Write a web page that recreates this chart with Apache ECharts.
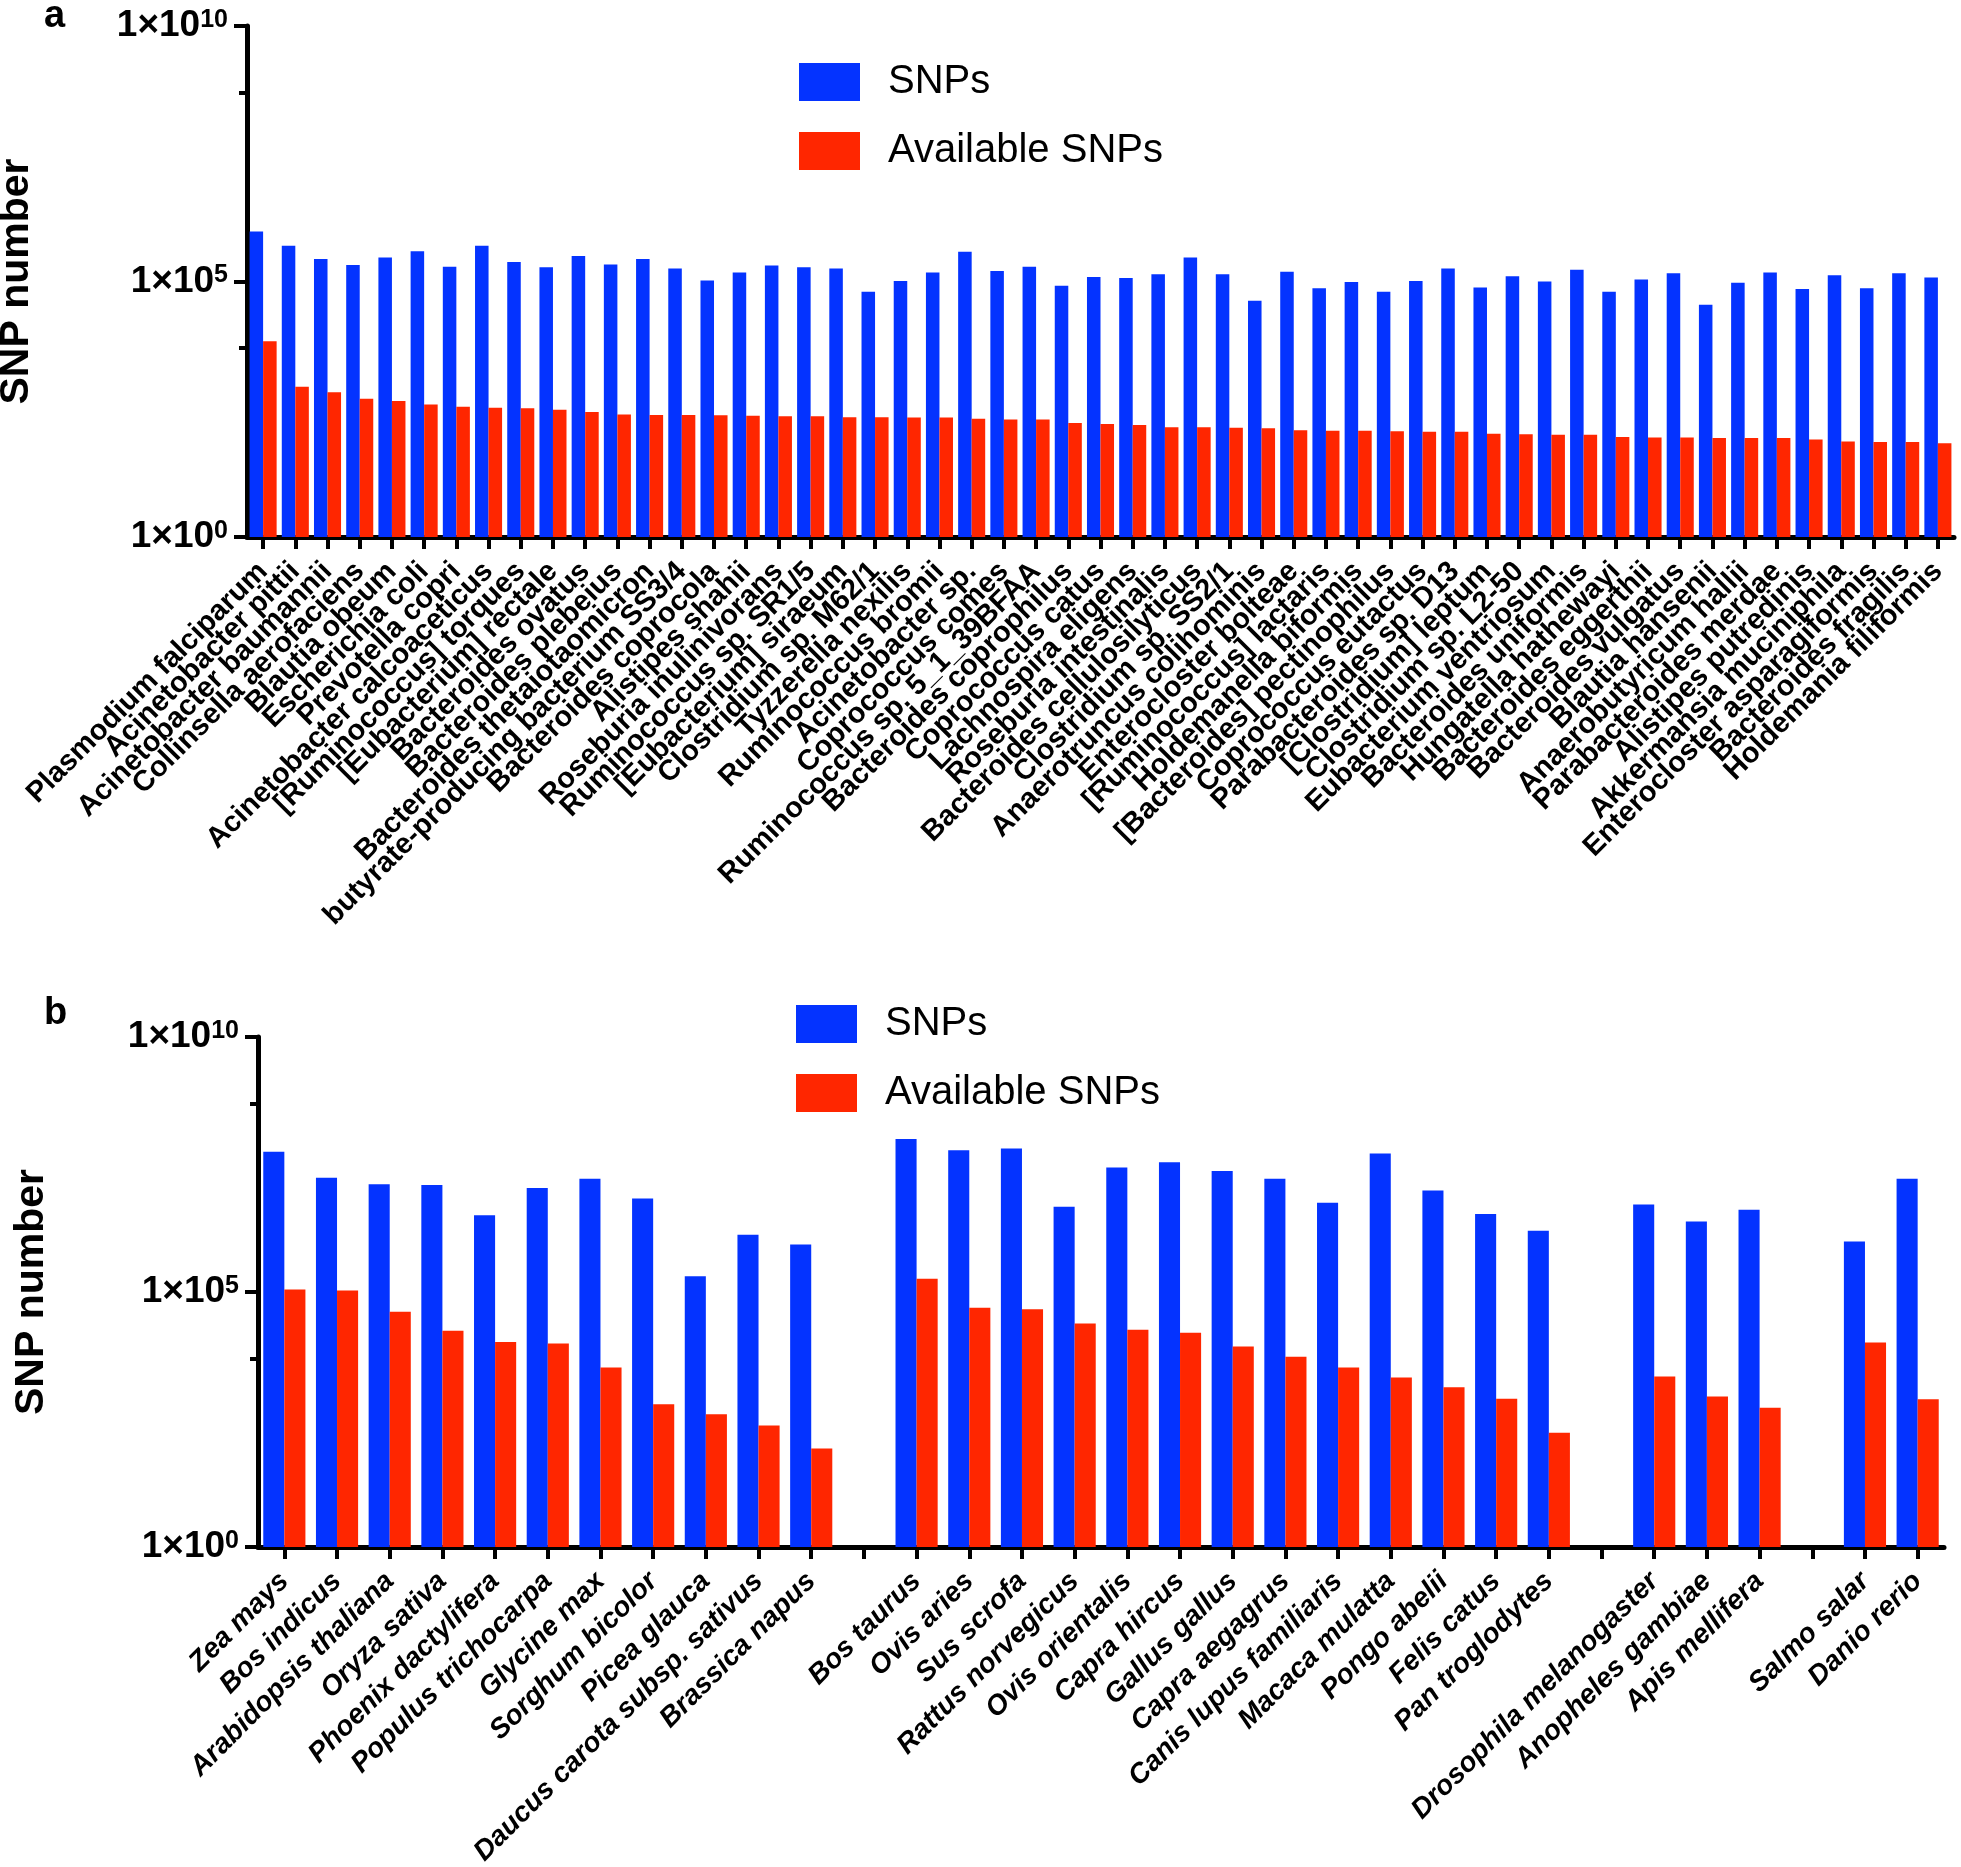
<!DOCTYPE html>
<html><head><meta charset="utf-8">
<script src="https://cdn.jsdelivr.net/npm/echarts@6/dist/echarts.min.js"></script>
<style>html,body{margin:0;padding:0;background:#fff}#c{width:1961px;height:1867px}</style>
</head><body><div id="c"></div>
<script>
const categoriesA = ['Plasmodium falciparum','Acinetobacter pittii','Acinetobacter baumannii','Collinsella aerofaciens','Blautia obeum','Escherichia coli','Prevotella copri','Acinetobacter calcoaceticus','[Ruminococcus] torques','[Eubacterium] rectale','Bacteroides ovatus','Bacteroides plebeius','Bacteroides thetaiotaomicron','butyrate-producing bacterium SS3/4','Bacteroides coprocola','Alistipes shahii','Roseburia inulinivorans','Ruminococcus sp. SR1/5','[Eubacterium] siraeum','Clostridium sp. M62/1','Tyzzerella nexilis','Ruminococcus bromii','Acinetobacter sp.','Coprococcus comes','Ruminococcus sp. 5_1_39BFAA','Bacteroides coprophilus','Coprococcus catus','Lachnospira eligens','Roseburia intestinalis','Bacteroides cellulosilyticus','Clostridium sp. SS2/1','Anaerotruncus colihominis','Enterocloster bolteae','[Ruminococcus] lactaris','Holdemanella biformis','[Bacteroides] pectinophilus','Coprococcus eutactus','Parabacteroides sp. D13','[Clostridium] leptum','Clostridium sp. L2-50','Eubacterium ventriosum','Bacteroides uniformis','Hungatella hathewayi','Bacteroides eggerthii','Bacteroides vulgatus','Blautia hansenii','Anaerobutyricum hallii','Parabacteroides merdae','Alistipes putredinis','Akkermansia muciniphila','Enterocloster asparagiformis','Bacteroides fragilis','Holdemania filiformis'];
const snpsA = [9.5e5,5.0e5,2.75e5,2.1e5,2.95e5,3.9e5,1.95e5,5.0e5,2.4e5,1.9e5,3.15e5,2.15e5,2.75e5,1.8e5,1.05e5,1.5e5,2.05e5,1.9e5,1.8e5,6.3e4,1.02e5,1.5e5,3.8e5,1.6e5,1.95e5,8.3e4,1.23e5,1.17e5,1.38e5,2.95e5,1.38e5,4.2e4,1.55e5,7.4e4,9.8e4,6.3e4,1.02e5,1.8e5,7.6e4,1.26e5,1.0e5,1.7e5,6.3e4,1.1e5,1.45e5,3.5e4,9.5e4,1.5e5,7.1e4,1.32e5,7.4e4,1.45e5,1.2e5];
const availA = [6800,870,680,510,460,390,355,340,330,310,280,250,245,245,240,235,230,230,220,220,218,218,205,200,200,170,162,155,141,141,138,135,123,120,120,117,115,115,105,102,100,100,91,89,89,87,87,87,81,74,72,72,68];

const categoriesB = ['Zea mays','Bos indicus','Arabidopsis thaliana','Oryza sativa','Phoenix dactylifera','Populus trichocarpa','Glycine max','Sorghum bicolor','Picea glauca','Daucus carota subsp. sativus','Brassica napus','','Bos taurus','Ovis aries','Sus scrofa','Rattus norvegicus','Ovis orientalis','Capra hircus','Gallus gallus','Capra aegagrus','Canis lupus familiaris','Macaca mulatta','Pongo abelii','Felis catus','Pan troglodytes','','Drosophila melanogaster','Anopheles gambiae','Apis mellifera','','Salmo salar','Danio rerio'];
const snpsB = [5.6e7,1.74e7,1.29e7,1.26e7,3.2e6,1.1e7,1.66e7,6.8e6,2.04e5,1.32e6,8.5e5,null,1.0e8,6.0e7,6.5e7,4.7e6,2.75e7,3.5e7,2.35e7,1.66e7,5.6e6,5.2e7,9.8e6,3.4e6,1.58e6,null,5.2e6,2.4e6,4.1e6,null,9.8e5,1.66e7];
const availB = [1.12e5,1.07e5,4.1e4,1.74e4,1.05e4,9.8e3,3.3e3,630,400,240,85,null,1.82e5,4.9e4,4.6e4,2.4e4,1.82e4,1.58e4,8.5e3,5.4e3,3.3e3,2.1e3,1.35e3,810,174,null,2.2e3,890,540,null,1.02e4,790];

const yMajorTicks = [1, 1e5, 1e10];
const yMinorTicks = [5e3, 5e8];
const seriesNames = ['SNPs', 'Available SNPs'];
const panelLetters = ['a', 'b'];
const yTitle = 'SNP number';

const F = '"Liberation Sans", Arial, Helvetica, sans-serif';
const BLUE = '#0433FF', RED = '#FF2600';

const chart = echarts.init(document.getElementById('c'), null, {renderer: 'canvas'});

function yLabelFormatter(v) {
  const e = Math.round(Math.log10(v));
  return '{b|1×10}{s|' + e + '}';
}
const yRich = {
  b: {fontSize: 37, fontWeight: 'bold', fontFamily: F, color: '#000', lineHeight: 37, verticalAlign: 'bottom', padding: [6, 0, 0, 0]},
  s: {fontSize: 25, fontWeight: 'bold', fontFamily: F, color: '#000', lineHeight: 25, verticalAlign: 'top'}
};

function mainY(gridIndex, nameGap) {
  return {
    type: 'log', logBase: 10, gridIndex, min: 1, max: 1e10, position: 'left',
    name: yTitle, nameLocation: 'middle', nameGap,
    nameTextStyle: {fontSize: 41, fontWeight: 'bold', fontFamily: F, color: '#000'},
    axisLine: {show: true, lineStyle: {color: '#000', width: 5}},
    axisTick: {show: true, length: 13, lineStyle: {color: '#000', width: 4}, customValues: yMajorTicks},
    axisLabel: {show: true, customValues: yMajorTicks, margin: 19, formatter: yLabelFormatter, rich: yRich},
    splitLine: {show: false}, minorTick: {show: false}, minorSplitLine: {show: false}
  };
}
function minorY(gridIndex) {
  return {
    type: 'log', logBase: 10, gridIndex, min: 1, max: 1e10, position: 'left', offset: 0,
    axisLine: {show: false},
    axisTick: {show: true, length: 8, lineStyle: {color: '#000', width: 4}, customValues: yMinorTicks},
    axisLabel: {show: false},
    splitLine: {show: false}
  };
}
function catX(gridIndex, data, italic, size) {
  return {
    type: 'category', gridIndex, data,
    axisLine: {show: true, onZero: false, lineStyle: {color: '#000', width: 5}},
    axisTick: {show: true, alignWithLabel: true, interval: 0, length: 12, lineStyle: {color: '#000', width: 4}},
    axisLabel: {interval: 0, rotate: 45, margin: 30, fontSize: size, fontWeight: 'bold',
      fontStyle: italic ? 'italic' : 'normal', fontFamily: F, color: '#000'},
    splitLine: {show: false}
  };
}
function legend(left, top) {
  return {
    data: seriesNames, orient: 'vertical', left, top,
    itemWidth: 61, itemHeight: 38, itemGap: 29, icon: 'rect',
    textStyle: {fontSize: 40, lineHeight: 40, fontFamily: F, color: '#000', padding: [0, 0, 0, 23]}
  };
}
function bar(name, xi, yi, data, color, gap) {
  return {
    type: 'bar', name, xAxisIndex: xi, yAxisIndex: yi, data,
    barGap: '0%', barCategoryGap: gap,
    itemStyle: {color}, emphasis: {disabled: true}
  };
}

const option = {
  animation: false,
  backgroundColor: '#fff',
  grid: [
    {left: 247, right: 7, top: 26, height: 511, outerBoundsMode: 'none', containLabel: false},
    {left: 258, right: 17, top: 1037, height: 510, outerBoundsMode: 'none', containLabel: false}
  ],
  legend: [legend(794, 57), legend(791, 999)],
  xAxis: [catX(0, categoriesA, false, 29), catX(1, categoriesB, true, 28)],
  yAxis: [mainY(0, 210), minorY(0), mainY(1, 206), minorY(1)],
  series: [
    bar(seriesNames[0], 0, 0, snpsA, BLUE, '16%'),
    bar(seriesNames[1], 0, 0, availA, RED, '16%'),
    bar(seriesNames[0], 1, 2, snpsB, BLUE, '20%'),
    bar(seriesNames[1], 1, 2, availB, RED, '20%')
  ],
  graphic: [
    {type: 'text', left: 44, top: -2, style: {text: panelLetters[0], fontSize: 38, fontWeight: 'bold', fontFamily: F, fill: '#000'}},
    {type: 'text', left: 44, top: 995, style: {text: panelLetters[1], fontSize: 38, fontWeight: 'bold', fontFamily: F, fill: '#000'}}
  ]
};
chart.setOption(option);
</script>
</body></html>
